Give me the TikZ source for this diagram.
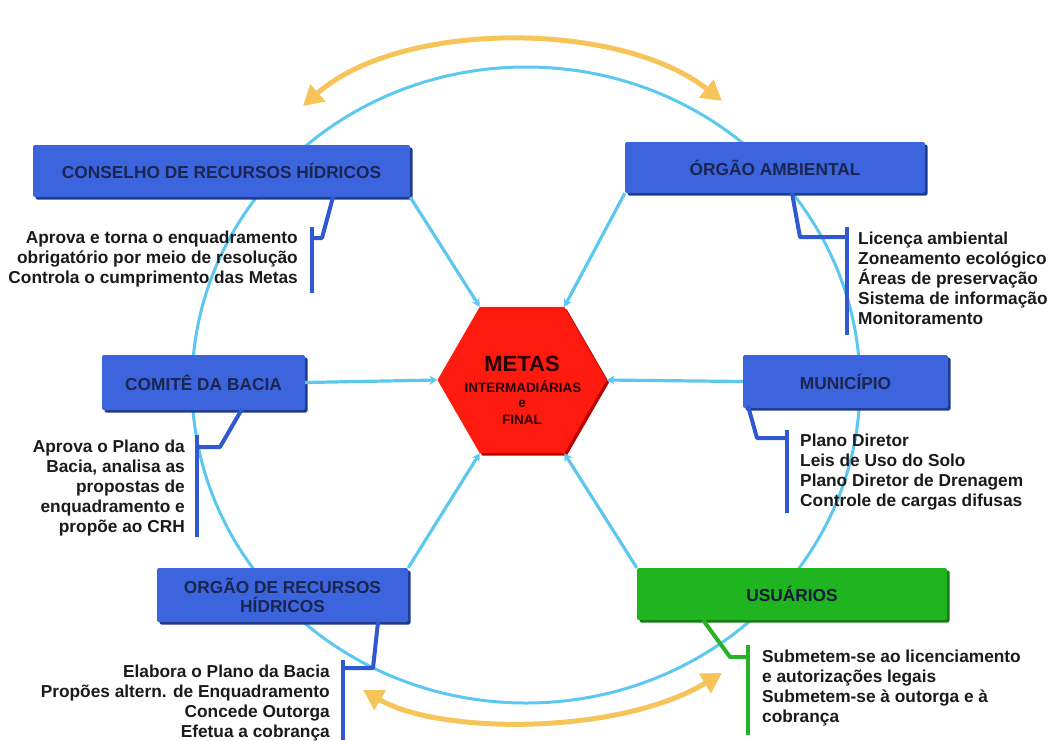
\documentclass[tikz,border=0pt]{standalone}
\usepackage{fontspec}
\setmainfont{Liberation Sans}
\usetikzlibrary{arrows.meta,shadows,calc}
\definecolor{boxblue}{HTML}{3C64DC}
\definecolor{boxshade}{HTML}{1E3A8C}
\definecolor{titlenavy}{HTML}{1A2550}
\definecolor{boxgreen}{HTML}{20B420}
\definecolor{greenshade}{HTML}{147A14}
\definecolor{ringblue}{HTML}{5CC8F0}
\definecolor{brackblue}{HTML}{3058D0}
\definecolor{brackgreen}{HTML}{28B028}
\definecolor{arcorange}{HTML}{F6C458}
\definecolor{hexred}{HTML}{FF1A10}
\definecolor{hexshade}{HTML}{B80000}
\definecolor{txt}{HTML}{1A1A1A}
\begin{document}
\begin{tikzpicture}[x=1pt,y=-1pt,
  every node/.style={font=\bfseries\fontsize{17.3}{19}\selectfont, inner sep=0pt},
  bluebox/.style={fill=boxblue, rounded corners=2pt, text=titlenavy, align=center,
    general shadow={fill=boxshade, shadow xshift=2.5pt, shadow yshift=-2.5pt, rounded corners=2pt}},
  greenbox/.style={fill=boxgreen, rounded corners=2pt, text=titlenavy!70!black, align=center,
    general shadow={fill=greenshade, shadow xshift=2.5pt, shadow yshift=-2.5pt, rounded corners=2pt}},
  desc/.style={text=txt, font=\bfseries\fontsize{17.3}{20}\selectfont},
  ring/.style={ringblue, line width=3pt},
  link/.style={ringblue, line width=3.2pt, -{Stealth[length=8pt,width=9pt]}},
  brack/.style={brackblue, line width=4pt},
  gbrack/.style={brackgreen, line width=4pt},
  swing/.style={arcorange, line width=5pt, {Triangle[length=20pt,width=22pt]}-{Triangle[length=20pt,width=22pt]}},
  hextext/.style={text=black!85!red},
  hexsmall/.style={hextext, font=\bfseries\fontsize{13.5}{14}\selectfont}
]
\useasboundingbox (0,0) rectangle (1049,740);

% ring
\draw[ring] (526,385) ellipse [x radius=334, y radius=318];

% orange double arrows
\coordinate (ta) at (303,106);
\coordinate (tb) at (722,101);
\coordinate (ba) at (363,690);
\coordinate (bb) at (722,673);
\draw[swing] (ta) .. controls (400,20) and (620,20) .. (tb);
\draw[swing] (ba) .. controls (440,735) and (620,735) .. (bb);

% boxes
\node[bluebox, minimum width=377pt, minimum height=52pt] (crh) at (221.5,171) {CONSELHO DE RECURSOS HÍDRICOS};
\node[bluebox, minimum width=300pt, minimum height=51pt] (amb) at (775,167.5) {ÓRGÃO AMBIENTAL};
\node[bluebox, minimum width=203pt, minimum height=55pt] (com) at (203.5,382.5) {COMITÊ DA BACIA};
\node[bluebox, minimum width=205pt, minimum height=53pt] (mun) at (845.5,381.5) {MUNICÍPIO};
\node[bluebox, minimum width=251pt, minimum height=54pt] (orh) at (282.5,595) {ORGÃO DE RECURSOS\\HÍDRICOS};
\node[greenbox, minimum width=310pt, minimum height=52pt] (usu) at (792,594) {USUÁRIOS};

% hexagon
\coordinate (hR) at (606.5,380);
\coordinate (hTR) at (564.25,306.8);
\coordinate (hTL) at (479.75,306.8);
\coordinate (hL) at (437.5,380);
\coordinate (hBL) at (479.75,453.2);
\coordinate (hBR) at (564.25,453.2);
\fill[hexshade] ($(hR)+(2.5,2.5)$) -- ($(hTR)+(2.5,2.5)$) -- ($(hTL)+(2.5,2.5)$) -- ($(hL)+(2.5,2.5)$) -- ($(hBL)+(2.5,2.5)$) -- ($(hBR)+(2.5,2.5)$) -- cycle;
\fill[hexred] (hR) -- (hTR) -- (hTL) -- (hL) -- (hBL) -- (hBR) -- cycle;
\node[hextext, font=\bfseries\fontsize{22}{22}\selectfont] (m1) at (522,364) {METAS};
\node[hexsmall] (m2) at (523,387) {INTERMADIÁRIAS};
\node[hexsmall] (m3) at (522,404) {e};
\node[hexsmall] (m4) at (522,420) {FINAL};

% links to the hexagon
\draw[link] (crh.south east) -- (hTL);
\draw[link] (amb.south west) -- (hTR);
\draw[link] (com.east) -- (hL);
\draw[link] (mun.west) -- (hR);
\draw[link] (orh.north east) -- (hBL);
\draw[link] (usu.north west) -- (hBR);

% descriptions
\node[desc, align=right, anchor=east] (dcrh) at (298,259) {Aprova e torna o enquadramento\\obrigatório por meio de resolução\\Controla o cumprimento das Metas};
\node[desc, align=left, anchor=west] (damb) at (858,278) {Licença ambiental\\Zoneamento ecológico\\Áreas de preservação\\Sistema de informação\\Monitoramento};
\node[desc, align=right, anchor=east] (dcom) at (185,488) {Aprova o Plano da\\Bacia, analisa as\\propostas de\\enquadramento e\\propõe ao CRH};
\node[desc, align=left, anchor=west] (dmun) at (800,472) {Plano Diretor\\Leis de Uso do Solo\\Plano Diretor de Drenagem\\Controle de cargas difusas};
\node[desc, align=right, anchor=east] (dorh) at (330,703) {Elabora o Plano da Bacia\\Propões altern. de Enquadramento\\Concede Outorga\\Efetua a cobrança};
\node[desc, align=left, anchor=west] (dusu) at (762,688) {Submetem-se ao licenciamento\\e autorizações legais\\Submetem-se à outorga e à\\cobrança};

% brackets
\coordinate (k1) at (333,197); \coordinate (k1b) at (322,238); \coordinate (k1c) at (312,238);
\coordinate (k1t) at (312,227); \coordinate (k1e) at (312,293);
\draw[brack, line join=round] (k1) -- (k1b) -- (k1c);
\draw[brack] (k1t) -- (k1e);

\coordinate (k2) at (792,193); \coordinate (k2b) at (800,237); \coordinate (k2c) at (847,237);
\coordinate (k2t) at (847,227); \coordinate (k2e) at (847,335);
\draw[brack, line join=round] (k2) -- (k2b) -- (k2c);
\draw[brack] (k2t) -- (k2e);

\coordinate (k3) at (242,409); \coordinate (k3b) at (220,447); \coordinate (k3c) at (197,447);
\coordinate (k3t) at (197,435); \coordinate (k3e) at (197,537);
\draw[brack, line join=round] (k3) -- (k3b) -- (k3c);
\draw[brack] (k3t) -- (k3e);

\coordinate (k4) at (748,406); \coordinate (k4b) at (757,438); \coordinate (k4c) at (787,438);
\coordinate (k4t) at (787,430); \coordinate (k4e) at (787,513);
\draw[brack, line join=round] (k4) -- (k4b) -- (k4c);
\draw[brack] (k4t) -- (k4e);

\coordinate (k5) at (378,622); \coordinate (k5b) at (373,668); \coordinate (k5c) at (343,668);
\coordinate (k5t) at (343,660); \coordinate (k5e) at (343,740);
\draw[brack, line join=round] (k5) -- (k5b) -- (k5c);
\draw[brack] (k5t) -- (k5e);

\coordinate (k6) at (703,620); \coordinate (k6b) at (730,657); \coordinate (k6c) at (748,657);
\coordinate (k6t) at (748,645); \coordinate (k6e) at (748,735);
\draw[gbrack, line join=round] (k6) -- (k6b) -- (k6c);
\draw[gbrack] (k6t) -- (k6e);
\end{tikzpicture}
\end{document}
